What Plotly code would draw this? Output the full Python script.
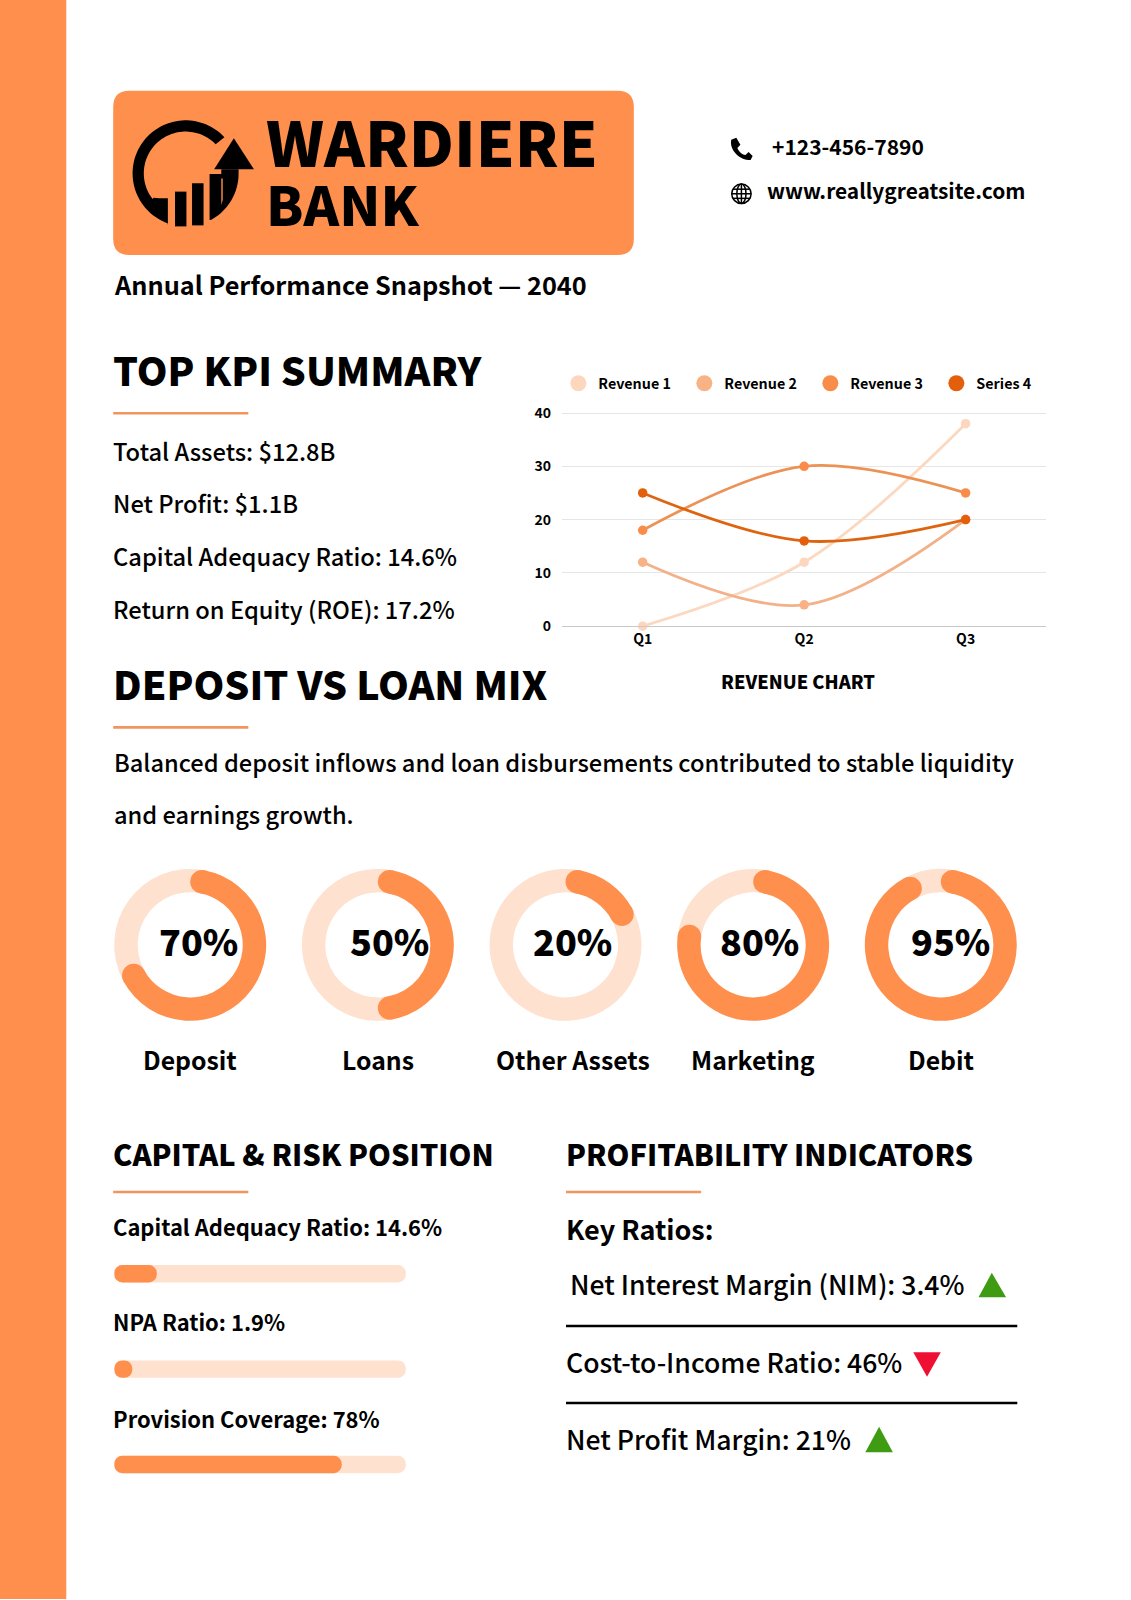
import re
import math
import plotly.graph_objects as go

W, H = 1131, 1600
S = W / 1109  # layout notes below are taken on a 1109-wide reading of the page

ORANGE = "#FF8F4C"
LIGHT = "#FEE1CF"
BLACK = "#000000"
FONT = "Noto Sans CJK SC"

# ---- data ----
quarters = ["Q1", "Q2", "Q3"]
revenue_1 = [0, 12, 38]
revenue_2 = [12, 4, 20]
revenue_3 = [18, 30, 25]
series_4 = [25, 16, 20]
series_names = ["Revenue 1", "Revenue 2", "Revenue 3", "Series 4"]
line_colors = ["#FBD8BF", "#F2B189", "#EC9255", "#DF6410"]
marker_colors = ["#FCD7BD", "#F9B286", "#F98C48", "#E35F0B"]

donut_labels = ["Deposit", "Loans", "Other Assets", "Marketing", "Debit"]
donut_values = [70, 50, 20, 80, 95]

kpi_lines = ["Total Assets: $12.8B", "Net Profit: $1.1B",
             "Capital Adequacy Ratio: 14.6%", "Return on Equity (ROE): 17.2%"]

risk_labels = ["Capital Adequacy Ratio: 14.6%", "NPA Ratio: 1.9%", "Provision Coverage: 78%"]
risk_fill = [14.6, 6.2, 78]
risk_track = [100, 100, 100]

ratio_lines = ["Net Interest Margin (NIM): 3.4%", "Cost-to-Income Ratio: 46%", "Net Profit Margin: 21%"]

# ---- helpers ----
shapes, annos = [], []

def sp(path):
    return re.sub(r"-?\d+\.?\d*", lambda m: f"{float(m.group())*S:.2f}", path)

def rect(x0, y0, x1, y1, color, r=0, layer="below"):
    if r:
        p = (f"M{x0+r} {y0} L{x1-r} {y0} Q{x1} {y0} {x1} {y0+r} L{x1} {y1-r} Q{x1} {y1} {x1-r} {y1} "
             f"L{x0+r} {y1} Q{x0} {y1} {x0} {y1-r} L{x0} {y0+r} Q{x0} {y0} {x0+r} {y0} Z")
        shapes.append(dict(type="path", path=sp(p), xref="x", yref="y", fillcolor=color, line_width=0, layer=layer))
    else:
        shapes.append(dict(type="rect", x0=x0*S, x1=x1*S, y0=y0*S, y1=y1*S, xref="x", yref="y",
                           fillcolor=color, line_width=0, layer=layer))

def poly(pts, color, layer="above"):
    p = "M" + " L".join(f"{x:.2f} {y:.2f}" for x, y in pts) + " Z"
    shapes.append(dict(type="path", path=sp(p), xref="x", yref="y", fillcolor=color, line_width=0, layer=layer))

def text(s, x, y, size, weight=700, anchor="left", color=BLACK):
    xx = x*S - (2 if anchor == "left" else 0)
    annos.append(dict(text=s, x=xx, y=y*S, xref="x", yref="y", xanchor=anchor, yanchor="middle",
                      showarrow=False, align=anchor,
                      font=dict(family=FONT, size=size, weight=weight, color=color)))

def pol(cx, cy, r, deg):
    a = math.radians(deg)
    return (cx + r*math.sin(a), cy - r*math.cos(a))

fig = go.Figure()

# ---- page furniture ----
rect(0, 0, 65, 1568, ORANGE)
rect(111, 89, 621.5, 250, ORANGE, r=16)

# logo
cx, cy, Ro, Ri = 182, 170, 52, 41
ring = [pol(cx, cy, Ro, d) for d in range(47, -162, -3)]
ring += [(164.6, 220.6), (164.6, 194.4), (156, 194.4), (150.6, 194)]
ring += [pol(cx, cy, Ri, d) for d in range(-128, 48, 3)]
poly(ring, BLACK)
right = [(234, 166)] + [pol(cx, cy, Ro, d) for d in range(94, 154, 3)] + [(205.5, 215.7), (205.5, 170.6), (217, 170.6), (217, 166)]
poly(right, BLACK)
poly([(229.3, 135.6), (249, 166), (210, 166)], BLACK)
poly([(171.6, 187.9), (182.8, 187.9), (182.8, 222), (171.6, 222)], BLACK)
poly([(188.3, 179.7), (199.6, 179.7), (199.6, 221), (188.3, 221)], BLACK)
poly([(217, 175), (218.4, 175), (218.4, 196), (217, 201)], ORANGE)

text("WARDIERE", 261, 137.5, 62, 900)
text("BANK", 261, 199, 54, 900)
text("Annual Performance Snapshot — 2040", 112, 278, 25.3, 700)

# contact
shapes.append(dict(type="path", xref="x", yref="y", fillcolor=BLACK, line_width=0, layer="above",
                   path=sp("M717 137 L722 135 L726 142 L723 145 C725 149 727 151 731 152 L734 149 L738 153 L736 157 C725 157 715 147 717 137 Z")))
text("+123-456-7890", 757, 143, 21, 700)
text("www.reallygreatsite.com", 752.5, 186, 20.9, 700)
gx, gy, gr = 727, 190, 9.5
gl = dict(color=BLACK, width=1.5)
shapes.append(dict(type="circle", xref="x", yref="y", x0=(gx-gr)*S, x1=(gx+gr)*S, y0=(gy-gr)*S, y1=(gy+gr)*S, line=gl, layer="above"))
shapes.append(dict(type="circle", xref="x", yref="y", x0=(gx-4.5)*S, x1=(gx+4.5)*S, y0=(gy-gr)*S, y1=(gy+gr)*S, line=gl, layer="above"))
for p in [f"M{gx} {gy-gr} L{gx} {gy+gr}", f"M{gx-gr} {gy} L{gx+gr} {gy}",
          f"M{gx-8.5} {gy-4.5} L{gx+8.5} {gy-4.5}", f"M{gx-8.5} {gy+4.5} L{gx+8.5} {gy+4.5}"]:
    shapes.append(dict(type="path", xref="x", yref="y", path=sp(p), line=gl, layer="above"))

# headings
text("TOP KPI SUMMARY", 111, 362, 39.2, 900)
rect(111, 404, 243.5, 406.5, "#F0965C")
for s, y in zip(kpi_lines, [442, 493, 545, 597]):
    text(s, 111, y, 23.7, 500)
text("DEPOSIT VS LOAN MIX", 111, 669, 39.3, 900)
rect(111, 712, 243.5, 714.5, "#F0965C")
text("Balanced deposit inflows and loan disbursements contributed to stable liquidity", 112, 747, 23.65, 500)
text("and earnings growth.", 112, 798, 23.65, 500)
text("REVENUE CHART", 782.5, 668, 18.3, 900, anchor="center")

text("CAPITAL &amp; RISK POSITION", 111, 1131, 29.1, 900)
rect(111, 1167.5, 243.5, 1170, "#F0965C")
text("PROFITABILITY INDICATORS", 555, 1131, 29.1, 900)
rect(555, 1167.5, 687.5, 1170, "#F0965C")

# ---- main page axes ----
fig.update_layout(
    xaxis=dict(range=[0, W], domain=[0, 1], visible=False, fixedrange=True),
    yaxis=dict(range=[H, 0], domain=[0, 1], visible=False, fixedrange=True),
)
fig.add_trace(go.Scatter(x=[0], y=[0], mode="markers", marker=dict(opacity=0), showlegend=False, hoverinfo="skip"))

# ---- line chart ----
for name, vals, lc, mc in zip(series_names, [revenue_1, revenue_2, revenue_3, series_4], line_colors, marker_colors):
    fig.add_trace(go.Scatter(x=quarters, y=vals, name=name, mode="lines+markers", xaxis="x2", yaxis="y2",
                             line=dict(color=lc, width=2.8, shape="spline", smoothing=1),
                             marker=dict(color=mc, size=9.5), showlegend=False, cliponaxis=False))
for name, mc in zip(series_names, marker_colors):
    fig.add_trace(go.Scatter(x=[None], y=[None], name=name, mode="markers", xaxis="x2", yaxis="y2",
                             marker=dict(color=mc, size=16)))

px0, px1, py40, py0 = 551*S, 1026*S, 405*S, 614*S
ytop = 40.4
ptop = py0 - (py0 - py40) * ytop / 40
fig.update_layout(
    xaxis2=dict(domain=[px0/W, px1/W], anchor="y2", type="category", range=[-0.5, 2.5], showgrid=False,
                showline=True, linecolor="#C9C9C9", linewidth=1.2, ticks="", zeroline=False, fixedrange=True,
                tickfont=dict(family=FONT, size=14, weight=700, color=BLACK)),
    yaxis2=dict(domain=[1-py0/H, 1-ptop/H], anchor="x2", range=[0, ytop], tickvals=[0, 10, 20, 30, 40],
                gridcolor="#E6E6E6", gridwidth=1.2, zeroline=False, ticks="", fixedrange=True, ticklabelstandoff=10,
                tickfont=dict(family=FONT, size=14, weight=700, color=BLACK)),
    legend=dict(orientation="h", x=547.5*S/W, y=1-376*S/H, xanchor="left", yanchor="middle",
                entrywidth=81, entrywidthmode="pixels", itemsizing="trace", traceorder="normal",
                bgcolor="rgba(0,0,0,0)", font=dict(family=FONT, size=14.3, weight=700, color=BLACK)),
)

# ---- donuts ----
DC = [186.5, 370.5, 554.5, 738.5, 922.5]
DY, DR, DT = 926.5, 74.5, 23
rm = DR - DT/2
capdeg = math.degrees(math.asin(DT/2/rm))
pct_x = [195, 382, 561, 745, 932]
lab_x = [186, 370.5, 561.5, 738, 922.5]
for c, v, name, tx, lx in zip(DC, donut_values, donut_labels, pct_x, lab_x):
    arc = v*3.6 - 2*capdeg
    fig.add_trace(go.Pie(values=[arc, 360-arc], labels=[name, "rest"], sort=False, direction="clockwise",
                         rotation=capdeg, hole=(DR-DT)/DR, textinfo="none", hoverinfo="skip", showlegend=False,
                         marker=dict(colors=[ORANGE, LIGHT], line=dict(width=0)),
                         domain=dict(x=[(c-DR)*S/W, (c+DR)*S/W], y=[1-(DY+DR)*S/H, 1-(DY-DR)*S/H])))
    for ang in (capdeg, v*3.6 - capdeg):
        qx, qy = pol(c, DY, rm, ang)
        r = DT/2
        shapes.append(dict(type="circle", xref="x", yref="y", x0=(qx-r)*S, x1=(qx+r)*S, y0=(qy-r)*S, y1=(qy+r)*S,
                           fillcolor=ORANGE, line_width=0, layer="above"))
    text(f"{v}%", tx, 922, 36, 900, anchor="center")
    text(name, lx, 1038, 24.8, 700, anchor="center")

# ---- progress bars ----
bar_step = 93.5
bt = 1249 - bar_step/2
bb = 1436 + bar_step/2
thick = 17/bar_step
for vals, col in ((risk_track, LIGHT), (risk_fill, ORANGE)):
    fig.add_trace(go.Bar(y=risk_labels, x=vals, base=0, orientation="h", xaxis="x3", yaxis="y3",
                         marker=dict(color=col, line_width=0), width=thick, hoverinfo="skip", showlegend=False))
fig.update_layout(
    barmode="overlay", barcornerradius=8,
    xaxis3=dict(domain=[112*S/W, 398*S/W], anchor="y3", range=[0, 100], visible=False, fixedrange=True),
    yaxis3=dict(domain=[1-bb*S/H, 1-bt*S/H], anchor="x3", type="category", autorange=False, range=[2.5, -0.5],
                visible=False, fixedrange=True, categoryorder="array", categoryarray=risk_labels),
)
for s, y in zip(risk_labels, [1203, 1296, 1391]):
    text(s, 111, y, 21.95, 700)

# ---- ratios ----
text("Key Ratios:", 555, 1205, 27, 700)
text(ratio_lines[0], 559, 1259, 26.6, 500)
text(ratio_lines[1], 555, 1335, 26.6, 500)
text(ratio_lines[2], 555, 1410.5, 26.6, 500)
rect(555, 1299, 997.5, 1301.5, BLACK)
rect(555, 1374.5, 997.5, 1377, BLACK)
poly([(972.5, 1248), (986.5, 1272), (959.5, 1272)], "#3F9C12")
poly([(895.5, 1326), (922.5, 1326), (909, 1350)], "#EF0F32")
poly([(862, 1399), (875.5, 1424), (848.5, 1424)], "#3F9C12")

fig.update_layout(width=W, height=H, margin=dict(l=0, r=0, t=0, b=0, autoexpand=False),
                  paper_bgcolor="white", plot_bgcolor="rgba(0,0,0,0)",
                  shapes=shapes, annotations=annos, showlegend=True,
                  font=dict(family=FONT))

fig.write_html("out.html", config=dict(displayModeBar=False),
               post_script="document.body.style.margin='0';document.body.style.overflow='hidden';")
